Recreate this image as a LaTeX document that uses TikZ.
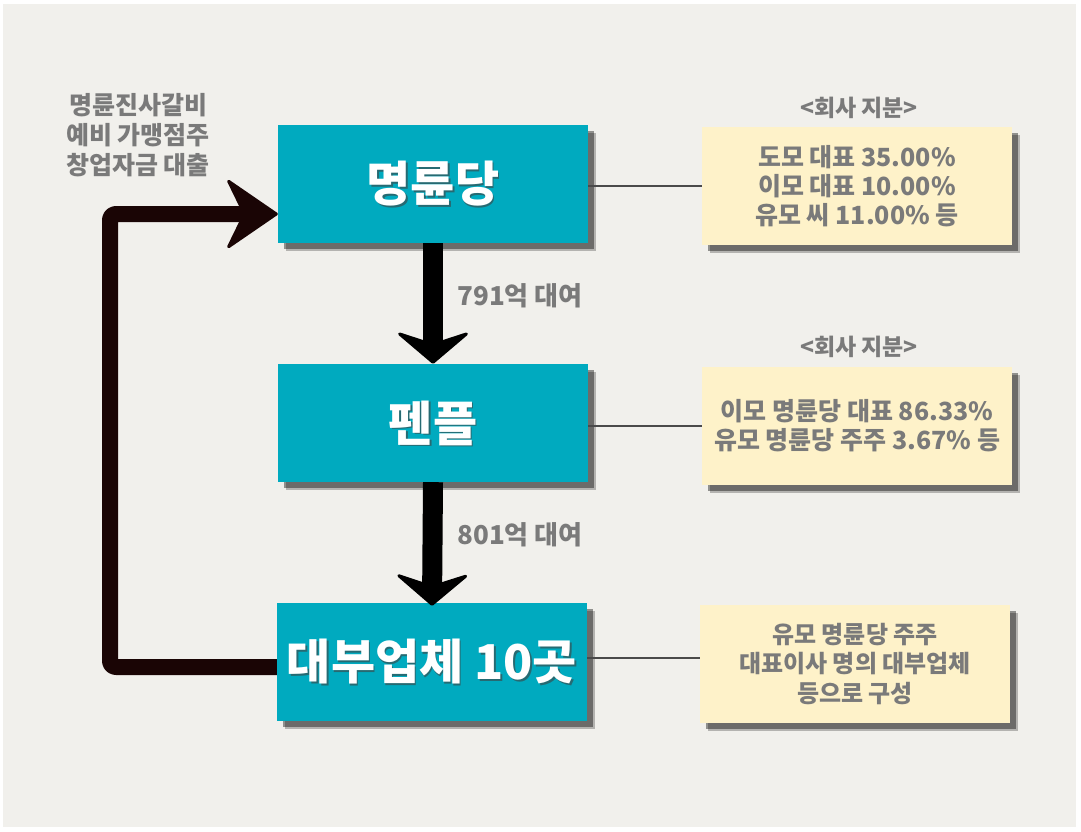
\documentclass[tikz,border=0pt]{standalone}
\usepackage{fontspec}
\setmainfont{Noto Sans CJK KR}
\usetikzlibrary{arrows.meta,shadows}
\definecolor{bgc}{HTML}{F1F0EC}
\definecolor{boxteal}{HTML}{00AABF}
\definecolor{notec}{HTML}{FEF2C9}
\definecolor{txtc}{HTML}{7A7A7A}
\definecolor{fbc}{HTML}{1A0505}
\definecolor{linec}{HTML}{4A4A4A}
\tikzset{
  shd/.style={drop shadow={shadow xshift=8pt,shadow yshift=-8pt,opacity=.25,fill=black},
              drop shadow={shadow xshift=6pt,shadow yshift=-6pt,opacity=.4,fill=black}},
  mainbox/.style={fill=boxteal, minimum width=310pt, minimum height=118pt, inner sep=0pt, shd},
  notebox/.style={fill=notec, minimum width=310pt, minimum height=118pt, inner sep=0pt, align=center,
                  text=txtc, font=\bfseries\fontsize{25}{29}\selectfont, shd},
  maintext/.style={text=white, font=\bfseries\fontsize{48}{52}\selectfont, inner sep=0pt},
  maintextshadow/.style={text=black!75, opacity=.6, font=\bfseries\fontsize{48}{52}\selectfont, inner sep=0pt},
  graytext/.style={text=txtc, font=\bfseries\fontsize{25}{30}\selectfont, align=center, inner sep=0pt},
  labeltext/.style={text=txtc, font=\bfseries\fontsize{26}{30}\selectfont, inner sep=0pt},
  headtext/.style={text=txtc, font=\bfseries\fontsize{23}{26}\selectfont, inner sep=0pt},
  downarrow/.style={line width=20pt, black, line cap=butt,
                    -{Stealth[length=34pt,width=80pt,inset=13pt,line width=3pt,round]}},
  fbarrow/.style={line width=16pt, fbc, line cap=butt, line join=round, rounded corners=6pt,
                  -{Stealth[length=54pt,width=74pt,inset=18pt,line width=3pt,round]}},
  thinline/.style={line width=1.8pt, linec}
}
\begin{document}
\begin{tikzpicture}[x=1pt,y=-1pt]
\useasboundingbox (0,0) rectangle (1081,832);
\fill[white] (0,0) rectangle (1081,832);
\fill[bgc] (3,4) rectangle (1076,827);

% boxes
\node[mainbox] (b1) at (433,184) {};
\node[mainbox] (b2) at (433,423) {};
\node[mainbox] (b3) at (432,662) {};

\node[notebox] (y1) at (857,186) {도모 대표 35.00\%\\이모 대표 10.00\%\\유모 씨 11.00\% 등};
\node[notebox] (y2) at (857,426) {이모 명륜당 대표 86.33\%\\유모 명륜당 주주 3.67\% 등};
\node[notebox, font=\bfseries\fontsize{24}{29.5}\selectfont] (y3) at (855,664) {유모 명륜당 주주\\대표이사 명의 대부업체\\등으로 구성};

% connectors to notes
\draw[thinline] (b1.east |- y1.west) -- (y1.west);
\draw[thinline] (b2.east |- y2.west) -- (y2.west);
\draw[thinline] (b3.east |- 0,658) -- (y3.west |- 0,658);

% box texts
\node[maintextshadow] (t1s) at ([xshift=1.5pt,yshift=-1.5pt]b1.center) {명륜당};
\node[maintext] (t1) at (b1.center) {명륜당};
\node[maintextshadow] (t2s) at ([xshift=1.5pt,yshift=-1.5pt]b2.center) {펜플};
\node[maintext] (t2) at (b2.center) {펜플};
\node[maintextshadow] (t3s) at ([xshift=1.5pt,yshift=-1.5pt]b3.center) {대부업체 10곳};
\node[maintext] (t3) at (b3.center) {대부업체 10곳};

% headers
\node[headtext] (h1) at (859,108) {<회사 지분>};
\node[headtext] (h2) at (859,347) {<회사 지분>};

% left label
\node[graytext] (lt) at (138,135) {명륜진사갈비\\예비 가맹점주\\창업자금 대출};

% arrow labels
\node[labeltext] (l1) at (520,296) {791억 대여};
\node[labeltext] (l2) at (520,535) {801억 대여};

% down arrows
\draw[downarrow] (b1.south) -- (b2.north);
\draw[downarrow] (b2.south) -- ([yshift=-3pt]b3.north);

% feedback arrow
\coordinate (c1) at (110,667);
\coordinate (c2) at (110,214);
\draw[fbarrow] (b3.west |- c1) -- (c1) -- (c2) -- (b1.west |- c2);
\end{tikzpicture}
\end{document}
